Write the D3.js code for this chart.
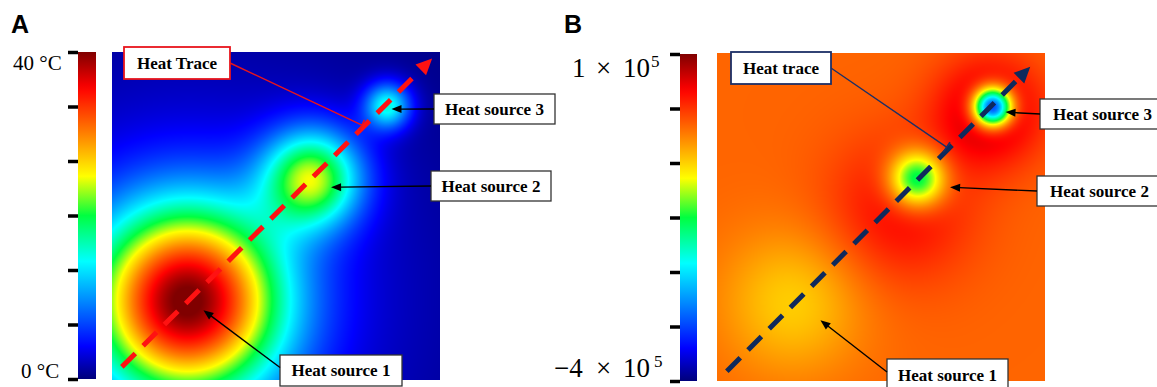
<!DOCTYPE html>
<html>
<head>
<meta charset="utf-8">
<script src="https://cdn.jsdelivr.net/npm/d3@7"></script>
<style>
  body { margin: 0; background: #fff; }
  svg { display: block; }
  .panel-letter { font-family: "Liberation Sans", Arial, sans-serif; font-weight: bold; font-size: 25px; }
  .cb-label { font-family: "Liberation Serif", "Times New Roman", serif; }
  .box-text { font-family: "Liberation Serif", "Times New Roman", serif; font-weight: bold; font-size: 17px; }
</style>
</head>
<body>
<svg id="chart" width="1157" height="387"></svg>
<script>
// heat sources, plate coordinates (0..1)
const sourceNames = ['Heat source 1', 'Heat source 2', 'Heat source 3'];
const sourceX = [0.23, 0.61, 0.84];
const sourceY = [0.24, 0.615, 0.835];

// panel A: temperature (°C)
const tempDomain = [0, 40];
const tempPeak = [36.8, 21, 14];
const tempSpread = [0.287, 0.148, 0.07];
const tempHalo = [4, 0, 0];
const tempHaloSpread = [0.76, 1, 1];
const tempTickLabels = ['0 °C', '40 °C'];

// panel B: heat trace (×10^5)
const traceDomain = [-4, 1];
const traceBase = -0.1;
const traceDip = [-0.55, -1.9, -3.9];
const traceDipSpread = [0.22, 0.085, 0.058];
const traceRing = [0, 0.55, 0.9];
const traceRingSpread = [0.3, 0.22, 0.16];
const traceRingX = [0.23, 0.56, 0.83];
const traceRingY = [0.24, 0.52, 0.82];
const traceTickMantissa = ['−4', '1'];

const colorbarTickCount = 7;

// dashed trace path, plate coords [start, end]
const traceLineA = [[0.03, 0.04], [0.976, 0.98]];
const traceLineB = [[0.03, 0.03], [0.955, 0.958]];
const leaderTargetA = [0.762, 0.777];
const leaderTargetB = [0.70, 0.713];

// jet-like colormap
const jetStops  = [0, 0.1, 0.23, 0.36, 0.5, 0.62, 0.75, 0.89, 1];
const jetColors = ['#00007a', '#0000ff', '#0080ff', '#00ffff', '#00ff40', '#ffff00', '#ff8000', '#ff0000', '#800000'];

const svg = d3.select('#chart');

function jetScale(domain) {
  return d3.scaleLinear()
    .domain(jetStops.map(s => domain[0] + s * (domain[1] - domain[0])))
    .range(jetColors)
    .clamp(true);
}

function tempAt(px, py) {
  let t = 0;
  sourceX.forEach((sx, i) => {
    const d2 = (px - sx) ** 2 + (py - sourceY[i]) ** 2;
    t += tempPeak[i] * Math.exp(-d2 / tempSpread[i] ** 2)
       + tempHalo[i] * Math.exp(-d2 / tempHaloSpread[i] ** 2);
  });
  return t;
}

function traceAt(px, py) {
  let v = traceBase;
  sourceX.forEach((sx, i) => {
    const d2 = (px - sx) ** 2 + (py - sourceY[i]) ** 2;
    const r2 = (px - traceRingX[i]) ** 2 + (py - traceRingY[i]) ** 2;
    v += traceDip[i] * Math.exp(-d2 / traceDipSpread[i] ** 2)
       + traceRing[i] * Math.exp(-r2 / traceRingSpread[i] ** 2);
  });
  return v;
}

function drawPlate(x, y, field, color) {
  const x0 = x.range()[0], y0 = y.range()[1];
  const w = Math.round(x.range()[1] - x0), h = Math.round(y.range()[0] - y0);
  const canvas = document.createElement('canvas');
  canvas.width = w; canvas.height = h;
  const ctx = canvas.getContext('2d');
  const img = ctx.createImageData(w, h);
  for (let j = 0; j < h; j++) {
    for (let i = 0; i < w; i++) {
      const c = d3.rgb(color(field(x.invert(x0 + i + 0.5), y.invert(y0 + j + 0.5))));
      const k = (j * w + i) * 4;
      img.data[k] = c.r; img.data[k + 1] = c.g; img.data[k + 2] = c.b; img.data[k + 3] = 255;
    }
  }
  ctx.putImageData(img, 0, 0);
  svg.append('image')
    .attr('x', x0).attr('y', y0).attr('width', w).attr('height', h)
    .attr('preserveAspectRatio', 'none')
    .attr('href', canvas.toDataURL());
}

function drawColorbar(id, domain, color, box) {
  const grad = svg.append('defs').append('linearGradient')
    .attr('id', id).attr('x1', 0).attr('y1', 1).attr('x2', 0).attr('y2', 0);
  d3.range(0, 1.0001, 0.02).forEach(t => {
    grad.append('stop').attr('offset', t).attr('stop-color', color(domain[0] + t * (domain[1] - domain[0])));
  });
  svg.append('rect')
    .attr('x', box.x).attr('y', box.y).attr('width', box.w).attr('height', box.h)
    .attr('fill', `url(#${id})`);

  const s = d3.scaleLinear().domain(domain).range([box.y + box.h, box.y]);
  const ticks = d3.range(colorbarTickCount).map(i => domain[0] + i * (domain[1] - domain[0]) / (colorbarTickCount - 1));
  const ax = svg.append('g')
    .attr('transform', `translate(${box.x},0)`)
    .call(d3.axisLeft(s).tickValues(ticks).tickSize(10).tickFormat(''));
  ax.select('.domain').remove();
  ax.selectAll('.tick line').attr('stroke', '#000').attr('stroke-width', 3.5);
  return s;
}

function arrow(x1, y1, x2, y2, color, width, headLen, headW) {
  const dx = x2 - x1, dy = y2 - y1, L = Math.hypot(dx, dy);
  const ux = dx / L, uy = dy / L;
  const bx = x2 - ux * headLen, by = y2 - uy * headLen;
  svg.append('line')
    .attr('x1', x1).attr('y1', y1).attr('x2', bx + ux * 1).attr('y2', by + uy * 1)
    .attr('stroke', color).attr('stroke-width', width);
  svg.append('path')
    .attr('d', `M${x2},${y2}L${bx - uy * headW / 2},${by + ux * headW / 2}L${bx + uy * headW / 2},${by - ux * headW / 2}Z`)
    .attr('fill', color);
}

function dashedTrace(x, y, line, color) {
  const [p0, p1] = line;
  const x1 = x(p0[0]), y1 = y(p0[1]), x2 = x(p1[0]), y2 = y(p1[1]);
  const L = Math.hypot(x2 - x1, y2 - y1), ux = (x2 - x1) / L, uy = (y2 - y1) / L;
  const headLen = 16, headW = 15;
  svg.append('line')
    .attr('x1', x1).attr('y1', y1)
    .attr('x2', x2 - ux * (headLen + 4)).attr('y2', y2 - uy * (headLen + 4))
    .attr('stroke', color).attr('stroke-width', 5)
    .attr('stroke-dasharray', '19,11');
  const bx = x2 - ux * headLen, by = y2 - uy * headLen;
  svg.append('path')
    .attr('d', `M${x2},${y2}L${bx - uy * headW / 2},${by + ux * headW / 2}L${bx + uy * headW / 2},${by - ux * headW / 2}Z`)
    .attr('fill', color);
}

function labelBox(b, text, stroke, strokeW) {
  svg.append('rect')
    .attr('x', b.x).attr('y', b.y).attr('width', b.w).attr('height', b.h)
    .attr('fill', '#fff').attr('stroke', stroke).attr('stroke-width', strokeW);
  svg.append('text').attr('class', 'box-text')
    .attr('x', b.x + b.w / 2).attr('y', b.y + b.h / 2 + 5.5)
    .attr('text-anchor', 'middle').text(text);
}

function leader(b, tx, ty, color) {
  const x1 = b.x + b.w, y1 = b.y + b.h / 2;
  svg.append('line').attr('x1', x1).attr('y1', y1).attr('x2', tx).attr('y2', ty)
    .attr('stroke', color).attr('stroke-width', 1.4);
  const L = Math.hypot(tx - x1, ty - y1), px = -(ty - y1) / L, py = (tx - x1) / L;
  svg.append('line')
    .attr('x1', tx - px * 6).attr('y1', ty - py * 6).attr('x2', tx + px * 6).attr('y2', ty + py * 6)
    .attr('stroke', color).attr('stroke-width', 1.6);
}

// ---------- panel A ----------
const xA = d3.scaleLinear().domain([0, 1]).range([112, 440]);
const yA = d3.scaleLinear().domain([0, 1]).range([380, 52]);
const colorA = jetScale(tempDomain);
drawPlate(xA, yA, tempAt, colorA);
drawColorbar('gradA', tempDomain, colorA, { x: 78, y: 52, w: 18, h: 327 });

svg.append('text').attr('class', 'panel-letter').attr('x', 11).attr('y', 33).text('A');
svg.append('text').attr('class', 'cb-label').attr('x', 13).attr('y', 70).attr('font-size', 21).text(tempTickLabels[1]);
svg.append('text').attr('class', 'cb-label').attr('x', 21).attr('y', 378).attr('font-size', 21).text(tempTickLabels[0]);

dashedTrace(xA, yA, traceLineA, '#ff1212');

const boxesA = [
  { x: 280, y: 355, w: 122, h: 31, off: [16, 9] },
  { x: 431, y: 171, w: 120, h: 30, off: [19, 9] },
  { x: 434, y: 94,  w: 121, h: 30, off: [4, 3] }
];
boxesA.forEach((b, i) => {
  labelBox(b, sourceNames[i], '#333', 1.3);
  arrow(b.x, b.y + b.h / 2 - (i === 0 ? 3 : 0), xA(sourceX[i]) + b.off[0], yA(sourceY[i]) + b.off[1], '#000', 1.4, 10, 8);
});
const traceBoxA = { x: 124, y: 47, w: 106, h: 32 };
leader(traceBoxA, xA(leaderTargetA[0]), yA(leaderTargetA[1]), '#e8141c');
labelBox(traceBoxA, 'Heat Trace', '#e8141c', 1.8);

// ---------- panel B ----------
const xB = d3.scaleLinear().domain([0, 1]).range([717, 1045]);
const yB = d3.scaleLinear().domain([0, 1]).range([381, 53]);
const colorB = jetScale(traceDomain);
drawPlate(xB, yB, traceAt, colorB);
drawColorbar('gradB', traceDomain, colorB, { x: 680, y: 54, w: 17, h: 327 });

svg.append('text').attr('class', 'panel-letter').attr('x', 564).attr('y', 33).text('B');

function sciLabel(mantissa, baseline, xs) {
  const g = svg.append('g').attr('class', 'cb-label');
  g.append('text').attr('x', xs[0]).attr('y', baseline).attr('font-size', 27).text(mantissa);
  g.append('text').attr('x', xs[1]).attr('y', baseline).attr('font-size', 27).text('×');
  g.append('text').attr('x', xs[2]).attr('y', baseline).attr('font-size', 27).text('10');
  g.append('text').attr('x', xs[3]).attr('y', baseline - 10).attr('font-size', 17).text('5');
}
sciLabel(traceTickMantissa[1], 77, [572, 596, 623, 651]);
sciLabel(traceTickMantissa[0], 377, [554, 596, 623, 654]);

dashedTrace(xB, yB, traceLineB, '#0f2a5c');

const boxesB = [
  { x: 887,  y: 359, w: 121, h: 32, off: [28, 18] },
  { x: 1037, y: 176, w: 125, h: 30, off: [33, 8] },
  { x: 1040, y: 99,  w: 125, h: 30, off: [13, 5] }
];
boxesB.forEach((b, i) => {
  labelBox(b, sourceNames[i], '#333', 1.3);
  arrow(b.x, b.y + b.h / 2 - (i === 0 ? 3 : 0), xB(sourceX[i]) + b.off[0], yB(sourceY[i]) + b.off[1], '#000', 1.4, 10, 8);
});
const traceBoxB = { x: 731, y: 52, w: 100, h: 32 };
leader(traceBoxB, xB(leaderTargetB[0]), yB(leaderTargetB[1]), '#1c2f66');
labelBox(traceBoxB, 'Heat trace', '#1c2f66', 1.8);
</script>
</body>
</html>
